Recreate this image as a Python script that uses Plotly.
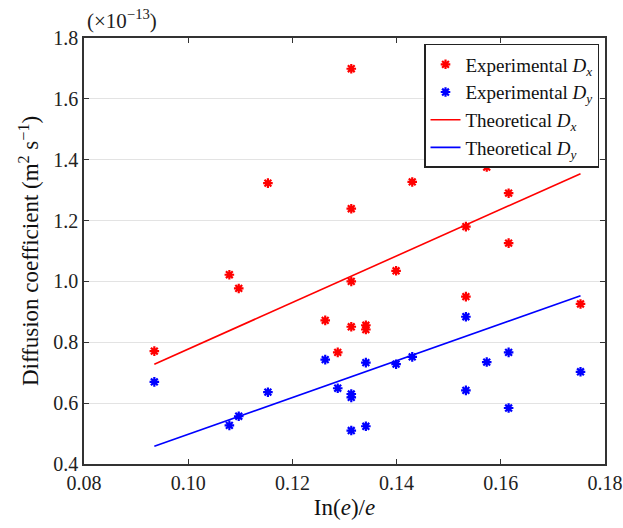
import plotly.graph_objects as go

# Data (values in units of 1e-13 m^2 s^-1)
exp_dx_x = [0.0935, 0.1079, 0.1097, 0.1153, 0.1263, 0.1287, 0.1313, 0.1313, 0.1313, 0.1313,
            0.1341, 0.1341, 0.1399, 0.1430, 0.1533, 0.1533, 0.1573, 0.1615, 0.1615, 0.1753]
exp_dx_y = [0.771, 1.022, 0.977, 1.323, 0.872, 0.767, 1.699, 1.239, 1.000, 0.851,
            0.856, 0.842, 1.035, 1.327, 1.180, 0.950, 1.376, 1.290, 1.126, 0.926]

exp_dy_x = [0.0935, 0.1079, 0.1097, 0.1153, 0.1263, 0.1287, 0.1313, 0.1313, 0.1313,
            0.1341, 0.1341, 0.1399, 0.1430, 0.1533, 0.1533, 0.1573, 0.1615, 0.1615, 0.1753]
exp_dy_y = [0.670, 0.527, 0.557, 0.636, 0.743, 0.649, 0.630, 0.619, 0.510,
            0.733, 0.524, 0.728, 0.752, 0.884, 0.642, 0.735, 0.767, 0.584, 0.703]

theo_x = [0.0935, 0.1753]
theo_dx = [0.728, 1.354]
theo_dy = [0.458, 0.953]

x_ticks = [0.08, 0.10, 0.12, 0.14, 0.16, 0.18]
x_ticklabels = ["0.08", "0.10", "0.12", "0.14", "0.16", "0.18"]
y_ticks = [0.4, 0.6, 0.8, 1.0, 1.2, 1.4, 1.6, 1.8]
y_ticklabels = ["0.4", "0.6", "0.8", "1.0", "1.2", "1.4", "1.6", "1.8"]

FONT = "Liberation Serif"
TICKFONT = dict(family=FONT, size=20, color="#222222")

fig = go.Figure()
fig.add_trace(go.Scatter(x=exp_dx_x, y=exp_dx_y, mode="markers",
                         name="Experimental <i>D<sub>x</sub></i>",
                         marker=dict(symbol="asterisk-open", size=8, color="#ff0000",
                                     line=dict(color="#ff0000", width=2.2))))
fig.add_trace(go.Scatter(x=exp_dy_x, y=exp_dy_y, mode="markers",
                         name="Experimental <i>D<sub>y</sub></i>",
                         marker=dict(symbol="asterisk-open", size=8, color="#0000ff",
                                     line=dict(color="#0000ff", width=2.2))))
fig.add_trace(go.Scatter(x=theo_x, y=theo_dx, mode="lines",
                         name="Theoretical <i>D<sub>x</sub></i>",
                         line=dict(color="#ff0000", width=1.6)))
fig.add_trace(go.Scatter(x=theo_x, y=theo_dy, mode="lines",
                         name="Theoretical <i>D<sub>y</sub></i>",
                         line=dict(color="#0000ff", width=1.6)))

fig.update_layout(
    width=623, height=528,
    margin=dict(l=84, r=18, t=38, b=64, autoexpand=False),
    paper_bgcolor="white", plot_bgcolor="white",
    font=dict(family=FONT, size=20, color="#222222"),
    showlegend=True,
    legend=dict(x=0.9885, y=0.986, xanchor="right", yanchor="top",
                bgcolor="white", bordercolor="#222222", borderwidth=1.5,
                font=dict(family=FONT, size=19, color="#111111"),
                tracegroupgap=0, itemwidth=30),
)
fig.update_xaxes(range=[0.08, 0.18], tickvals=x_ticks, ticktext=x_ticklabels,
                 tickfont=TICKFONT, automargin=False,
                 ticks="inside", ticklen=5, tickwidth=1.2, tickcolor="#333333",
                 showline=True, linecolor="#333333", linewidth=1.5, mirror="ticks",
                 showgrid=False, zeroline=False,
                 title=dict(text="In(<i>e</i>)/<i>e</i>", font=dict(family=FONT, size=23, color="#111111"), standoff=6))
fig.update_yaxes(range=[0.4, 1.8], tickvals=y_ticks, ticktext=y_ticklabels,
                 tickfont=TICKFONT, automargin=False,
                 ticks="inside", ticklen=5, tickwidth=1.2, tickcolor="#333333",
                 showline=True, linecolor="#333333", linewidth=1.5, mirror="ticks",
                 showgrid=True, gridcolor="#e3e3e3", gridwidth=1.2, zeroline=False,
                 title=dict(text="Diffusion coefficient (m<sup>2</sup> s<sup>−1</sup>)",
                            font=dict(family=FONT, size=23, color="#111111"), standoff=8))

fig.add_annotation(text="(×10<sup>−13</sup>)", xref="paper", yref="paper",
                   x=0, y=1, xanchor="left", yanchor="bottom", yshift=3, xshift=1,
                   showarrow=False, font=dict(family=FONT, size=21, color="#222222"))

fig.write_html("out.html", config={"displayModeBar": False},
               post_script="document.body.style.margin='0';document.body.style.overflow='hidden';")
